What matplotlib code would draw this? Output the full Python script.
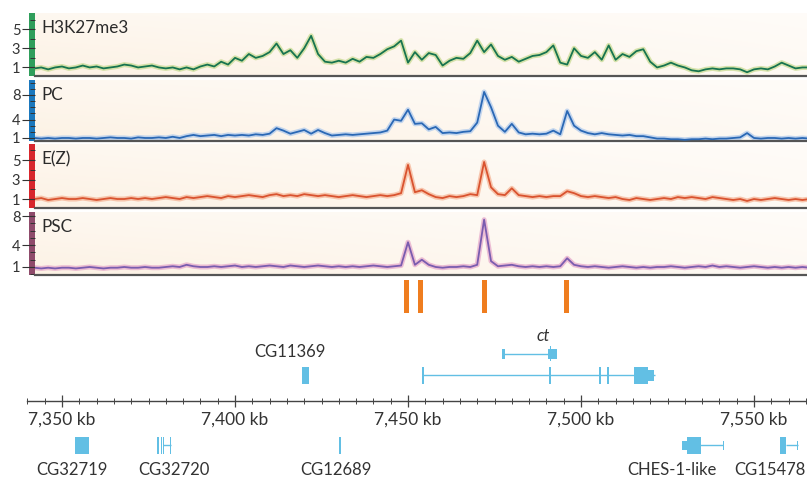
import numpy as np
import matplotlib
matplotlib.use("Agg")
import matplotlib.pyplot as plt
from matplotlib.patches import Rectangle
from matplotlib.ticker import MultipleLocator, FixedLocator, FuncFormatter

plt.rcParams['font.family'] = ['Lato', 'DejaVu Sans']

# ---------------- data ----------------
positions_kb = np.arange(7342, 7567, 2)  # sampling positions (kb)

h3k27me3 = [0.9, 1.0, 0.8, 1.0, 1.1, 0.9, 1.0, 1.2, 1.0, 1.1,
            0.9, 1.0, 1.1, 1.3, 1.2, 1.0, 1.1, 1.2, 1.0, 0.9,
            1.0, 0.8, 1.0, 0.8, 1.1, 1.3, 1.1, 1.6, 1.3, 2.0,
            1.7, 2.4, 2.0, 2.2, 2.6, 3.5, 2.4, 2.8, 2.0, 3.0,
            4.3, 2.4, 1.6, 1.5, 1.7, 1.5, 1.9, 1.6, 2.1, 2.0,
            2.4, 2.9, 3.2, 3.8, 1.5, 2.6, 1.8, 2.5, 2.3, 1.2,
            1.7, 2.0, 1.9, 2.5, 3.8, 2.6, 3.4, 2.2, 1.8, 2.1,
            1.6, 1.9, 2.2, 2.3, 2.6, 3.3, 1.5, 1.3, 3.0, 2.2,
            2.0, 2.6, 1.8, 3.3, 1.8, 2.4, 2.1, 2.7, 2.9, 1.6,
            1.0, 1.2, 1.5, 1.2, 1.0, 0.7, 0.6, 0.8, 0.9, 0.8,
            0.9, 0.9, 0.8, 0.5, 0.8, 0.9, 0.8, 1.1, 1.5, 1.2,
            0.9, 1.0, 1.0]

pc = [1.0, 0.9, 1.0, 0.9, 1.0, 1.0, 0.9, 1.0, 1.0, 0.9,
      1.0, 1.1, 1.0, 1.0, 0.9, 1.1, 1.0, 1.0, 1.1, 1.0,
      1.2, 1.0, 1.3, 1.5, 1.3, 1.4, 1.5, 1.3, 1.5, 1.4,
      1.5, 1.4, 1.6, 1.5, 1.7, 2.6, 2.2, 1.7, 2.0, 2.3,
      1.7, 2.3, 1.8, 1.4, 1.5, 1.6, 1.5, 1.6, 1.7, 1.8,
      1.9, 2.2, 4.0, 3.8, 5.6, 3.3, 3.4, 2.4, 2.8, 1.8,
      1.9, 1.8, 2.0, 2.1, 3.5, 8.5, 6.0, 3.0, 2.0, 3.3,
      1.9, 1.6, 1.7, 1.6, 1.7, 2.2, 1.6, 5.4, 3.0, 2.2,
      1.8, 1.6, 1.8, 1.6, 1.5, 1.4, 1.5, 1.3, 1.3, 1.1,
      0.9, 0.9, 0.8, 0.8, 0.7, 0.8, 0.8, 0.9, 0.8, 0.9,
      0.9, 1.0, 1.1, 1.8, 1.0, 0.9, 1.0, 1.0, 0.9, 1.0,
      0.9, 1.0, 0.9]

ez = [1.0, 1.1, 0.9, 1.0, 1.1, 1.0, 1.0, 1.1, 1.0, 0.9,
      1.0, 1.1, 1.0, 1.0, 1.1, 1.0, 1.1, 1.0, 1.1, 1.2,
      1.1, 1.0, 1.2, 1.1, 1.2, 1.3, 1.2, 1.1, 1.3, 1.2,
      1.3, 1.4, 1.3, 1.2, 1.4, 1.5, 1.3, 1.4, 1.3, 1.5,
      1.4, 1.3, 1.4, 1.3, 1.2, 1.3, 1.4, 1.3, 1.2, 1.3,
      1.4, 1.3, 1.4, 1.6, 4.5, 1.7, 1.9, 1.5, 1.2, 1.1,
      1.3, 1.2, 1.3, 1.5, 1.4, 4.8, 2.2, 1.5, 1.4, 2.1,
      1.4, 1.3, 1.2, 1.3, 1.2, 1.3, 1.3, 1.8, 1.6, 1.3,
      1.2, 1.3, 1.2, 1.1, 1.2, 1.0, 0.9, 1.1, 1.0, 0.9,
      1.0, 1.1, 1.0, 1.2, 1.1, 1.2, 1.1, 1.0, 1.2, 1.1,
      1.0, 0.9, 1.0, 0.8, 1.0, 0.9, 1.0, 1.1, 1.0, 0.9,
      1.0, 0.9, 1.0]

psc = [0.9, 0.8, 0.9, 0.8, 0.9, 0.9, 0.8, 0.9, 1.0, 0.9,
       0.8, 0.9, 0.9, 1.0, 0.9, 0.9, 1.0, 0.9, 0.9, 1.0,
       1.1, 1.0, 1.3, 1.1, 1.0, 1.0, 1.1, 1.0, 1.1, 1.2,
       1.0, 1.1, 1.0, 1.1, 1.2, 1.1, 1.0, 1.2, 1.1, 1.0,
       1.1, 1.2, 1.1, 1.0, 1.1, 1.0, 1.1, 1.0, 1.1, 1.2,
       1.1, 1.0, 1.1, 1.2, 4.4, 1.3, 2.0, 1.3, 1.0, 0.9,
       1.0, 1.0, 1.1, 1.0, 1.3, 7.5, 1.8, 1.1, 1.2, 1.3,
       1.1, 1.0, 1.1, 1.0, 1.1, 1.0, 1.1, 2.2, 1.3, 1.1,
       1.0, 1.1, 1.0, 0.9, 1.0, 1.1, 1.0, 0.9, 1.0, 0.9,
       1.0, 1.0, 1.1, 1.0, 0.9, 1.0, 1.1, 1.0, 1.2, 1.0,
       1.1, 1.0, 0.9, 1.0, 1.1, 1.0, 0.9, 1.0, 0.9, 1.0,
       0.9, 1.0, 0.9]

track_names = ["H3K27me3", "PC", "E(Z)", "PSC"]
track_values = [h3k27me3, pc, ez, psc]
track_yticks = [[1, 3, 5], [1, 4, 8], [1, 3, 5], [1, 4, 8]]

pre_sites_kb = [7449.6, 7453.6, 7472.1, 7495.8]

axis_major_kb = [7350, 7400, 7450, 7500, 7550]

# genes: name, intron span, exons (start, end, kind), label x (kb)
genes_row_a = [  # upper gene row
    ("CG11369", None, [(7419.4, 7421.4, "cds")], 7415.9),
    ("ct_long", (7454.0, 7521.4),
     [(7454.0, 7454.6, "cds"), (7490.8, 7491.4, "cds"), (7505.2, 7505.8, "cds"),
      (7507.5, 7508.1, "cds"), (7515.3, 7519.4, "cds"), (7519.4, 7521.1, "utr")], None),
]
genes_row_b = [  # ct short isoform
    ("ct", (7477.2, 7491.3),
     [(7477.2, 7478.0, "utr"), (7490.5, 7493.1, "utr"), (7491.0, 7491.4, "cds")], 7489.0),
]
genes_row_c = [  # below the axis
    ("CG32719", None, [(7353.8, 7357.8, "cds")], 7352.9),
    ("CG32720", (7379.3, 7381.4),
     [(7377.6, 7378.0, "cds"), (7378.5, 7378.9, "cds"), (7379.1, 7379.5, "cds"),
      (7381.2, 7381.6, "cds")], 7382.4),
    ("CG12689", None, [(7430.1, 7430.6, "cds")], 7429.2),
    ("CHES-1-like", (7530.6, 7541.1),
     [(7529.2, 7530.6, "utr"), (7530.6, 7534.7, "cds"), (7540.9, 7541.3, "utr")], 7526.3),
    ("CG15478", (7559.2, 7562.6),
     [(7557.5, 7559.2, "cds"), (7562.4, 7562.8, "utr")], 7554.6),
]

# ---------------- style ----------------
W, H = 807, 479
fig = plt.figure(figsize=(W / 100, H / 100), dpi=100)
fig.patch.set_facecolor("white")


def add_px_axes(left, top, right, bottom):
    return fig.add_axes([left / W, 1 - bottom / H, (right - left) / W, (bottom - top) / H])


KB_PER_PX = 1 / 3.46
KB_AT_62 = 7350.0


def px_to_kb(px):
    return KB_AT_62 + (px - 62) * KB_PER_PX


track_boxes = [(13, 75.5), (80, 141), (144, 208), (212, 275)]
track_ylims = [(0.16, 6.68), (0.51, 10.44), (0.08, 6.64), (-0.1, 8.55)]
bar_colors = ["#2f9e5b", "#1b78bd", "#d8262c", "#8f4b6b"]
line_colors = ["#17744f", "#2a68b5", "#d9532f", "#7a5caf"]
halo_colors = ["#c9db93", "#b0caec", "#f5b597", "#e6aacb"]

gx = np.linspace(0, 1, 300)
gy = np.linspace(0, 1, 60)
GX, GY = np.meshgrid(gx, gy)
fmix = (1 - 0.55 * GX) * (0.55 + 0.45 * (1 - GY))
peach = np.array([0.99, 0.948, 0.895])
grad = 1 - fmix[..., None] * (1 - peach)[None, None, :]

xl_track = (px_to_kb(35), px_to_kb(807))

for k, (name, vals) in enumerate(zip(track_names, track_values)):
    top, bot = track_boxes[k]
    ax = add_px_axes(35, top, 807, bot)
    ax.imshow(grad, extent=(0, 1, 0, 1), transform=ax.transAxes, origin="lower",
              aspect="auto", zorder=0, interpolation="bilinear")
    ax.plot(positions_kb, vals, color=halo_colors[k], lw=3.6, alpha=0.75,
            solid_joinstyle="round", zorder=2)
    ax.plot(positions_kb, vals, color=line_colors[k], lw=1.3,
            solid_joinstyle="round", zorder=3)
    ax.set_xlim(*xl_track)
    ax.set_ylim(*track_ylims[k])
    for s in ["top", "right", "left"]:
        ax.spines[s].set_visible(False)
    ax.spines["bottom"].set_color("#555555")
    ax.spines["bottom"].set_linewidth(1.6)
    ax.set_xticks([])
    ax.yaxis.set_major_locator(FixedLocator(track_yticks[k]))
    ax.yaxis.set_minor_locator(MultipleLocator(1))
    ax.tick_params(axis="y", which="major", direction="out", length=9.5, width=0.8,
                   color="#333333", labelsize=10.5, labelcolor="#333333", pad=1)
    ax.tick_params(axis="y", which="minor", direction="out", length=3.6, width=0.7,
                   color="#333333")
    ax.add_patch(Rectangle((-6 / 772, 0), 6 / 772, 1, transform=ax.transAxes,
                           facecolor=bar_colors[k], edgecolor="none",
                           clip_on=False, zorder=1))
    ax.annotate(name, xy=(0, 1), xycoords="axes fraction", xytext=(4.5, -5.0),
                textcoords="offset points", ha="left", va="top", fontsize=12.3,
                color="#2b2b2b", zorder=5)

# ---------------- gene / coordinate panel ----------------
gax = add_px_axes(27, 278, 807, 479)
gax.set_xlim(px_to_kb(27), px_to_kb(807))
gax.set_ylim(479, 278)
gax.patch.set_alpha(0)
for s in ["top", "right", "left"]:
    gax.spines[s].set_visible(False)
gax.spines["bottom"].set_position(("data", 401))
gax.spines["bottom"].set_color("#444444")
gax.spines["bottom"].set_linewidth(1.0)
gax.set_yticks([])
gax.xaxis.set_major_locator(FixedLocator(axis_major_kb))
gax.xaxis.set_minor_locator(MultipleLocator(5))
gax.xaxis.set_major_formatter(FuncFormatter(lambda v, p: f"{int(round(v)):,} kb"))
gax.tick_params(axis="x", which="major", direction="inout", length=9, width=0.9,
                color="#444444", labelsize=12.5, labelcolor="#333333", pad=3)
gax.tick_params(axis="x", which="minor", direction="inout", length=4, width=0.7,
                color="#444444")

# PRE sites (orange bars)
gax.bar(pre_sites_kb, 33, bottom=280, width=1.3, color="#ef7d1f", zorder=3)

gene_color = "#62bfe4"


def draw_genes(genes, yc, label_y, kind_heights, italic=False):
    for name, intron, exons, lx in genes:
        if intron is not None:
            gax.plot(intron, [yc, yc], color=gene_color, lw=1.0, zorder=3,
                     solid_capstyle="butt")
        for s, e, kind in exons:
            h = kind_heights[kind]
            gax.add_patch(Rectangle((s, yc - h / 2), e - s, h, facecolor=gene_color,
                                    edgecolor="none", zorder=4))
        if lx is not None:
            gax.text(lx, label_y, name, ha="center", va="center", fontsize=12,
                     color="#333333", style="italic" if italic else "normal")


draw_genes(genes_row_a, 375.5, 352, {"cds": 17, "utr": 11})
draw_genes(genes_row_b, 354, 336, {"cds": 15, "utr": 10}, italic=True)
draw_genes(genes_row_c, 445.5, 470, {"cds": 17, "utr": 9})

fig.savefig("out.png", dpi=100, facecolor="white")
